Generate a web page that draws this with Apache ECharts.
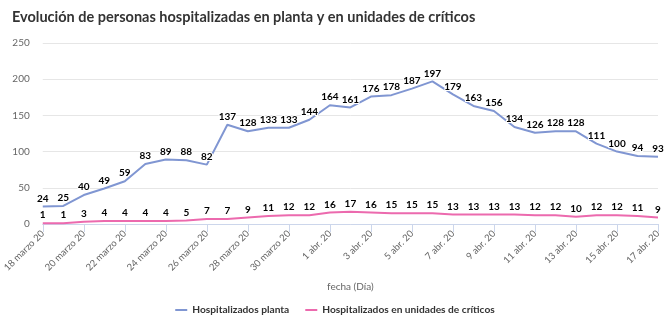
<!DOCTYPE html>
<html>
<head>
<meta charset="utf-8">
<script src="https://cdn.jsdelivr.net/npm/echarts@6/dist/echarts.min.js"></script>
<style>
  html, body { margin: 0; padding: 0; background: #fff; }
  #chart { width: 670px; height: 323px; }
</style>
</head>
<body>
<div id="chart"></div>
<script>
// Daily dates, 18 March to 17 April 2020
const fechas = [
  '18 marzo 20', '19 marzo 20', '20 marzo 20', '21 marzo 20', '22 marzo 20',
  '23 marzo 20', '24 marzo 20', '25 marzo 20', '26 marzo 20', '27 marzo 20',
  '28 marzo 20', '29 marzo 20', '30 marzo 20', '31 marzo 20',
  '1 abr. 20', '2 abr. 20', '3 abr. 20', '4 abr. 20', '5 abr. 20',
  '6 abr. 20', '7 abr. 20', '8 abr. 20', '9 abr. 20', '10 abr. 20',
  '11 abr. 20', '12 abr. 20', '13 abr. 20', '14 abr. 20', '15 abr. 20',
  '16 abr. 20', '17 abr. 20'
];

const planta = [
  24, 25, 40, 49, 59, 83, 89, 88, 82, 137,
  128, 133, 133, 144, 164, 161, 176, 178, 187, 197,
  179, 163, 156, 134, 126, 128, 128, 111, 100, 94, 93
];

const criticos = [
  1, 1, 3, 4, 4, 4, 4, 5, 7, 7,
  9, 11, 12, 12, 16, 17, 16, 15, 15, 15,
  13, 13, 13, 13, 12, 12, 10, 12, 12, 11, 9
];

const yTicks = { min: 0, max: 250, interval: 50 };

const FONT = 'Lato, "Open Sans", sans-serif';

const labelStyle = {
  show: true,
  position: 'top',
  distance: 3,
  color: '#000',
  fontSize: 10,
  fontWeight: 'bold',
  fontFamily: FONT,
  textBorderColor: '#fff',
  textBorderWidth: 2
};

const chart = echarts.init(document.getElementById('chart'), null, { renderer: 'canvas' });

function lineSeries(name, values, color) {
  return {
    name: name,
    type: 'line',
    data: values,
    symbol: 'circle',
    symbolSize: 0.1,
    showSymbol: true,
    itemStyle: { color: color },
    color: color,
    lineStyle: { width: 2, color: color },
    label: labelStyle,
    labelLayout: { hideOverlap: false },
    emphasis: { disabled: true }
  };
}

chart.setOption({
  animation: false,
  textStyle: { fontFamily: FONT },
  title: {
    text: 'Evolución de personas hospitalizadas en planta y en unidades de críticos',
    left: 7,
    top: 5,
    textStyle: { fontSize: 14.5, fontWeight: 'bold', color: '#333', fontFamily: FONT }
  },
  legend: {
    bottom: 3,
    left: 'center',
    itemWidth: 12,
    itemHeight: 2,
    itemGap: 16,
    icon: 'rect',
    textStyle: { fontSize: 10.2, fontWeight: 'bold', color: '#333', fontFamily: FONT },
    data: ['Hospitalizados planta', 'Hospitalizados en unidades de críticos']
  },
  grid: { left: 41, right: 12, top: 43, bottom: 99 },
  xAxis: {
    type: 'category',
    data: fechas,
    boundaryGap: false,
    name: 'fecha (Día)',
    nameLocation: 'middle',
    nameGap: 58,
    nameTextStyle: { fontSize: 10, color: '#666', fontFamily: FONT },
    axisLine: { lineStyle: { color: '#ccd6eb' } },
    axisTick: { show: true, interval: 1, length: 8, lineStyle: { color: '#ccd6eb' } },
    axisLabel: {
      interval: 1,
      rotate: 45,
      fontSize: 9.5,
      color: '#666',
      fontFamily: FONT,
      margin: 8
    },
    splitLine: { show: false }
  },
  yAxis: {
    type: 'value',
    min: yTicks.min,
    max: yTicks.max,
    interval: yTicks.interval,
    axisLine: { show: false },
    axisTick: { show: false },
    axisLabel: { fontSize: 10, color: '#666', fontFamily: FONT, margin: 13 },
    splitLine: { lineStyle: { color: '#e6e6e6' } }
  },
  series: [
    lineSeries('Hospitalizados planta', planta, '#8096d2'),
    lineSeries('Hospitalizados en unidades de críticos', criticos, '#ec6aae')
  ]
});
</script>
</body>
</html>
